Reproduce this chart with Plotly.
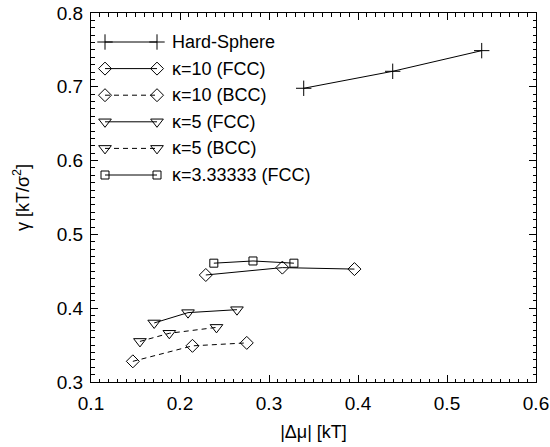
import plotly.graph_objects as go

# Interfacial free energy vs. chemical potential difference
hs_x = [0.339, 0.439, 0.539]
hs_y = [0.698, 0.721, 0.749]

k10_fcc_x = [0.229, 0.315, 0.396]
k10_fcc_y = [0.445, 0.455, 0.453]

k10_bcc_x = [0.147, 0.214, 0.275]
k10_bcc_y = [0.328, 0.349, 0.353]

k5_fcc_x = [0.171, 0.209, 0.264]
k5_fcc_y = [0.380, 0.394, 0.398]

k5_bcc_x = [0.155, 0.188, 0.241]
k5_bcc_y = [0.355, 0.366, 0.374]

k333_fcc_x = [0.238, 0.282, 0.328]
k333_fcc_y = [0.461, 0.464, 0.461]

series_names = ["Hard-Sphere", "κ=10 (FCC)", "κ=10 (BCC)",
                "κ=5 (FCC)", "κ=5 (BCC)", "κ=3.33333 (FCC)"]

X_RANGE = [0.1, 0.6]
Y_RANGE = [0.3, 0.8]

FONT = "Liberation Sans, Arial, sans-serif"
W, H = 550, 447
ML, MR, MT, MB = 91, 14, 13, 65
PW, PH = W - ML - MR, H - MT - MB

styles = [
    dict(symbol="cross-thin-open", size=11, dash="solid"),
    dict(symbol="diamond-open", size=10, dash="solid"),
    dict(symbol="diamond-open", size=10, dash="5px,4px"),
    dict(symbol="triangle-down-open", size=11, dash="solid"),
    dict(symbol="triangle-down-open", size=11, dash="5px,4px"),
    dict(symbol="square-open", size=8, dash="solid"),
]

data = [(hs_x, hs_y), (k10_fcc_x, k10_fcc_y), (k10_bcc_x, k10_bcc_y),
        (k5_fcc_x, k5_fcc_y), (k5_bcc_x, k5_bcc_y), (k333_fcc_x, k333_fcc_y)]

fig = go.Figure()
for (xs, ys), st, name in zip(data, styles, series_names):
    fig.add_trace(go.Scatter(
        x=xs, y=ys, mode="lines+markers", name=name, showlegend=False,
        line=dict(color="black", width=1, dash=st["dash"]),
        marker=dict(symbol=st["symbol"], size=st["size"], color="black",
                    line=dict(color="black", width=1)),
        cliponaxis=False,
    ))

# Hand-built legend: a short line with a marker at each end, on a pixel-unit overlay axis
leg_y0, leg_dy = 29, 26.6
leg_x0, leg_x1, leg_tx = 14, 66, 79
for i, (st, name) in enumerate(zip(styles, series_names)):
    yy = leg_y0 + i * leg_dy
    fig.add_trace(go.Scatter(
        x=[leg_x0, leg_x1], y=[yy, yy], mode="lines+markers", showlegend=False,
        xaxis="x2", yaxis="y2", hoverinfo="skip",
        line=dict(color="black", width=1, dash=st["dash"]),
        marker=dict(symbol=st["symbol"], size=st["size"], color="black",
                    line=dict(color="black", width=1)),
    ))
    fig.add_annotation(x=leg_tx, y=yy, xref="x2", yref="y2", text=name,
                       showarrow=False, xanchor="left", yanchor="middle",
                       font=dict(family=FONT, size=18, color="black"))

# invisible trace so the mirrored tick axes (top/right) are drawn
fig.add_trace(go.Scatter(x=X_RANGE, y=Y_RANGE, xaxis="x3", yaxis="y3",
                         mode="markers", marker=dict(opacity=0),
                         showlegend=False, hoverinfo="skip"))

tick_common = dict(
    showgrid=False, zeroline=False, ticks="inside", ticklen=7,
    tickcolor="black", tickwidth=1, dtick=0.1, automargin=False,
    minor=dict(ticks="inside", ticklen=3.5, dtick=0.01, tickcolor="black",
               tickwidth=1, showgrid=False),
)
tickfont = dict(family=FONT, size=19, color="black")
titlefont = dict(family=FONT, size=18, color="black")

fig.update_layout(
    width=W, height=H,
    margin=dict(l=ML, r=MR, t=MT, b=MB),
    paper_bgcolor="white", plot_bgcolor="white",
    xaxis=dict(range=X_RANGE, tick0=0.1, tickformat=".1f", tickfont=tickfont,
               showline=True, linecolor="black", linewidth=1, mirror=True,
               ticklabelstandoff=4,
               title=dict(text="|Δμ| [kT]", font=titlefont, standoff=12),
               **tick_common),
    yaxis=dict(range=Y_RANGE, tick0=0.3, tickformat=".1f", tickfont=tickfont,
               showline=True, linecolor="black", linewidth=1, mirror=True,
               ticklabelstandoff=3,
               title=dict(text="γ [kT/σ<sup>2</sup>]", font=titlefont, standoff=22),
               **tick_common),
    xaxis3=dict(range=X_RANGE, tick0=0.1, overlaying="x", side="top",
                showticklabels=False, showline=False, anchor="y3",
                fixedrange=True, **tick_common),
    yaxis3=dict(range=Y_RANGE, tick0=0.3, overlaying="y", side="right",
                showticklabels=False, showline=False, anchor="x3",
                fixedrange=True, **tick_common),
    xaxis2=dict(range=[0, PW], overlaying="x", visible=False, fixedrange=True),
    yaxis2=dict(range=[PH, 0], overlaying="y", visible=False, fixedrange=True),
    showlegend=False,
)

fig.write_html("out.html")
